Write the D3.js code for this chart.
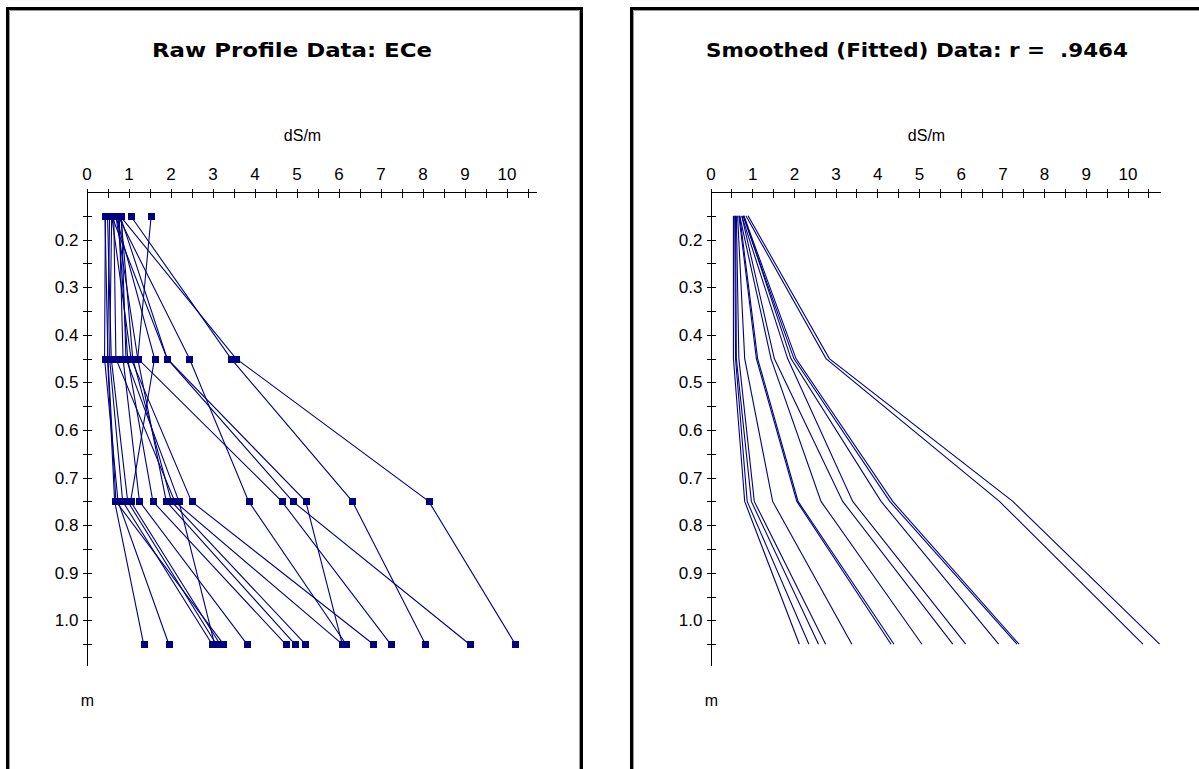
<!DOCTYPE html>
<html>
<head>
<meta charset="utf-8">
<script src="https://cdn.jsdelivr.net/npm/d3@7"></script>
<style>
  html, body { margin: 0; padding: 0; background: #fff; }
  svg { display: block; }
  text { font-family: "Liberation Sans", Arial, sans-serif; }
</style>
</head>
<body>
<svg id="chart" width="1199" height="769"></svg>
<script>
// ---------------- data ----------------
const depths = [0.15, 0.45, 0.75, 1.05];

// Raw ECe profiles (dS/m) at the four sampling depths
const rawProfiles = [
  [0.55, 0.50, 0.67, 1.36],
  [0.45, 0.43, 0.75, 1.96],
  [0.60, 0.55, 0.86, 2.99],
  [0.50, 0.59, 0.98, 3.09],
  [0.70, 1.62, 1.05, 3.18],
  [0.44, 0.51, 0.70, 3.26],
  [0.78, 0.87, 1.26, 3.82],
  [0.75, 0.98, 1.58, 4.74],
  [1.54, 1.22, 1.90, 4.96],
  [0.82, 1.10, 2.02, 5.21],
  [0.65, 0.70, 2.10, 6.09],
  [0.83, 0.94, 2.20, 3.05],
  [0.60, 1.06, 2.50, 6.83],
  [0.75, 2.45, 3.86, 6.18],
  [0.70, 1.22, 4.65, 7.24],
  [0.80, 1.92, 4.91, 9.12],
  [1.05, 3.44, 6.33, 8.07],
  [0.80, 3.56, 8.15, 10.21],
  [0.60, 1.92, 5.22, 6.09]
];

// Smoothed (fitted) profiles (dS/m) at the same depths
const fittedProfiles = [
  [0.55, 0.55, 0.82, 2.13],
  [0.58, 0.60, 0.88, 2.36],
  [0.60, 0.62, 0.98, 2.59],
  [0.62, 0.68, 1.05, 2.76],
  [0.65, 0.82, 1.49, 3.39],
  [0.68, 1.10, 2.07, 4.33],
  [0.70, 1.13, 2.10, 4.40],
  [0.70, 1.45, 2.65, 5.07],
  [0.75, 1.53, 3.17, 5.81],
  [0.75, 1.85, 3.41, 6.12],
  [0.80, 1.93, 4.09, 6.91],
  [0.78, 2.00, 4.30, 7.35],
  [0.80, 2.05, 4.37, 7.40],
  [0.85, 2.77, 6.93, 10.37],
  [0.90, 2.85, 7.25, 10.77]
];

const xTickLabels = [0, 1, 2, 3, 4, 5, 6, 7, 8, 9, 10];
const xTickMarks = [0, 0.5, 1, 1.5, 2, 2.5, 3, 3.5, 4, 4.5, 5, 5.5, 6, 6.5, 7, 7.5, 8, 8.5, 9, 9.5, 10, 10.5];
const yTickLabels = [0.2, 0.3, 0.4, 0.5, 0.6, 0.7, 0.8, 0.9, 1.0];
const yTickMarks = [0.15, 0.2, 0.25, 0.3, 0.35, 0.4, 0.45, 0.5, 0.55, 0.6, 0.65, 0.7, 0.75, 0.8, 0.85, 0.9, 0.95, 1.0, 1.05];

const titles = ["Raw Profile Data: ECe", "Smoothed (Fitted) Data: r =  .9464"];
const xUnit = "dS/m";
const yUnit = "m";

// ---------------- drawing ----------------
const svg = d3.select("#chart");
const NAVY = "#000080";

// panel frames
function frame(x, w) {
  svg.append("rect").attr("x", x).attr("y", 8.5).attr("width", w).attr("height", 820)
    .attr("fill", "#fff").attr("stroke", "#000").attr("stroke-width", 3);
  svg.append("path")
    .attr("d", `M${x + 2},820 V${10.5} H${x + w - 2} V820`)
    .attr("fill", "none").attr("stroke", "#9a9a9a").attr("stroke-width", 1);
}
frame(7.5, 574);
frame(631.5, 620);

const y = d3.scaleLinear().domain([0.1, 1.1]).range([192, 668]);

function panel(cfg) {
  const x = d3.scaleLinear().domain([0, 10]).range([cfg.x0, cfg.x10]);
  const g = svg.append("g");
  const axisY = 192.5;
  const axisX = Math.round(cfg.x0) + 0.5;

  // title
  g.append("text").attr("x", cfg.titleX).attr("y", 57)
    .attr("text-anchor", "middle")
    .attr("textLength", cfg.titleLen).attr("lengthAdjust", "spacingAndGlyphs")
    .style("white-space", "pre")
    .style("font-family", "'DejaVu Sans', sans-serif")
    .style("font-weight", "bold").style("font-size", "20px")
    .text(cfg.title);

  // unit labels
  g.append("text").attr("x", cfg.x0 + 216).attr("y", 141).attr("text-anchor", "middle")
    .style("font-size", "16px").text(xUnit);
  g.append("text").attr("x", axisX).attr("y", 706).attr("text-anchor", "middle")
    .style("font-size", "16px").text(yUnit);

  // x axis: crossing tick marks
  const xTop = g.append("g").attr("transform", `translate(0,${axisY})`)
    .call(d3.axisTop(x).tickValues(xTickMarks).tickSize(4).tickFormat(""));
  const xBot = g.append("g").attr("transform", `translate(0,${axisY})`)
    .call(d3.axisBottom(x).tickValues(xTickMarks).tickSize(5).tickFormat(""));
  [xTop, xBot].forEach(a => a.select(".domain").remove());
  // x labels
  const xLab = g.append("g").attr("transform", `translate(0,${axisY})`)
    .call(d3.axisTop(x).tickValues(xTickLabels).tickSize(0).tickPadding(13).tickFormat(d3.format("d")));
  xLab.select(".domain").remove();
  xLab.selectAll("text").style("font-size", "17px").style("font-family", "'Liberation Sans', Arial, sans-serif").attr("fill", "#000");

  g.append("line").attr("x1", axisX).attr("x2", cfg.axisEnd).attr("y1", axisY).attr("y2", axisY)
    .attr("stroke", "#000").attr("shape-rendering", "crispEdges");

  // y axis
  const yL = g.append("g").attr("transform", `translate(${axisX},0)`)
    .call(d3.axisLeft(y).tickValues(yTickMarks).tickSize(5).tickFormat(""));
  const yR = g.append("g").attr("transform", `translate(${axisX},0)`)
    .call(d3.axisRight(y).tickValues(yTickMarks).tickSize(4).tickFormat(""));
  [yL, yR].forEach(a => a.select(".domain").remove());
  const yLab = g.append("g").attr("transform", `translate(${axisX},0)`)
    .call(d3.axisLeft(y).tickValues(yTickLabels).tickSize(0).tickPadding(9).tickFormat(d3.format(".1f")));
  yLab.select(".domain").remove();
  yLab.selectAll("text").style("font-size", "17px").style("font-family", "'Liberation Sans', Arial, sans-serif").attr("fill", "#000");

  g.append("line").attr("x1", axisX).attr("x2", axisX).attr("y1", axisY).attr("y2", 666)
    .attr("stroke", "#000").attr("shape-rendering", "crispEdges");
  g.selectAll(".tick line").attr("stroke", "#000").attr("shape-rendering", "crispEdges");

  // data lines
  const line = d3.line().x(d => x(d[0])).y(d => y(d[1]));
  const series = cfg.data.map(p => p.map((v, i) => [v, depths[i]]));
  g.append("g").selectAll("path").data(series).join("path")
    .attr("d", line).attr("fill", "none").attr("stroke", NAVY).attr("stroke-width", 1.1);

  if (cfg.markers) {
    g.append("g").selectAll("rect").data(series.flat()).join("rect")
      .attr("x", d => Math.round(x(d[0])) - 3.5).attr("y", d => Math.round(y(d[1])) - 3.5)
      .attr("width", 7).attr("height", 7).attr("fill", NAVY)
      .attr("shape-rendering", "crispEdges");
  }
}

panel({ x0: 86.5, x10: 506.5, axisEnd: 537, titleX: 292, titleLen: 280, title: titles[0], data: rawProfiles, markers: true });
panel({ x0: 710.5, x10: 1127.5, axisEnd: 1161, titleX: 917, titleLen: 422, title: titles[1], data: fittedProfiles, markers: false });
</script>
</body>
</html>
